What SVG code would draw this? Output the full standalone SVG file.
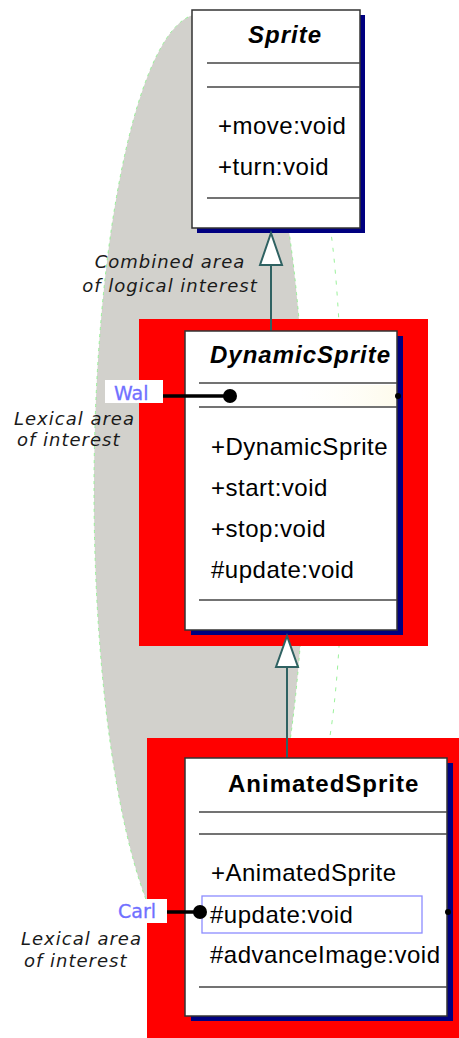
<svg xmlns="http://www.w3.org/2000/svg" width="459" height="1038" viewBox="0 0 459 1038">
  <style>
    .area { fill: #d2d1cc; stroke: #8cf28c; stroke-width: 0.9; stroke-dasharray: 3 4; }
    .area2 { fill: none; stroke: #9cf29c; stroke-width: 1; stroke-dasharray: 4 7; }
    .hl { fill: #ff0000; }
    .shadow { fill: #000080; }
    .box { fill: #ffffff; stroke: #333333; stroke-width: 1.5; }
    .sep { stroke: #444444; stroke-width: 1.6; }
    .title { font-family: "Liberation Sans", Arial, sans-serif; font-size: 24px; font-weight: bold; fill: #000; letter-spacing: 1px; }
    .ital { font-style: italic; }
    .member { font-family: "Liberation Sans", Arial, sans-serif; font-size: 24px; fill: #000; letter-spacing: 0.5px; }
    .note { font-family: "DejaVu Sans", sans-serif; font-size: 18px; font-style: italic; fill: #1a1a1a; letter-spacing: 1px; }
    .tag { font-family: "DejaVu Sans", sans-serif; font-size: 19px; fill: #7070ff; stroke: #7070ff; stroke-width: 0.3; }
    .gen { stroke: #2f6262; stroke-width: 2; fill: none; }
    .genhead { stroke: #2f6262; stroke-width: 2; fill: #ffffff; stroke-linejoin: miter; }
    .link { stroke: #000; stroke-width: 3.5; }
  </style>
  <defs>
    <linearGradient id="glow" x1="0" y1="0" x2="1" y2="0">
      <stop offset="0" stop-color="#fffdf0" stop-opacity="0"/>
      <stop offset="1" stop-color="#fdf8e0" stop-opacity="0.6"/>
    </linearGradient>
  </defs>

  <!-- areas of interest -->
  <ellipse class="area" cx="200" cy="490" rx="106" ry="476"/>
  <path class="area2" d="M 330 226 C 346 330 350 620 329 742"/>

  <!-- highlight backgrounds -->
  <rect class="hl" x="139" y="319" width="289" height="327"/>
  <rect class="hl" x="147" y="738" width="312" height="300"/>

  <!-- connectors -->
  <g id="connectors">
    <line class="gen" x1="271" y1="265" x2="271" y2="331"/>
    <line class="gen" x1="287" y1="667" x2="287" y2="758"/>
  </g>

  <g id="Sprite">
    <rect class="shadow" x="197" y="15" width="168" height="218"/>
    <rect class="box" x="192" y="10" width="168" height="218"/>
    <text class="title ital" x="248" y="43">Sprite</text>
    <line class="sep" x1="207" y1="63" x2="360" y2="63"/>
    <line class="sep" x1="207" y1="87" x2="360" y2="87"/>
    <text class="member" x="218" y="134">+move:void</text>
    <text class="member" x="218" y="175">+turn:void</text>
    <line class="sep" x1="207" y1="198" x2="360" y2="198"/>
  </g>

  <g id="DynamicSprite">
    <rect class="shadow" x="191" y="336" width="212" height="299"/>
    <rect class="box" x="185" y="331" width="212" height="299"/>
    <rect x="300" y="385" width="96" height="21" fill="url(#glow)"/>
    <text class="title ital" x="210" y="363">DynamicSprite</text>
    <line class="sep" x1="199" y1="383" x2="397" y2="383"/>
    <line class="sep" x1="199" y1="407" x2="397" y2="407"/>
    <text class="member" x="211" y="455">+DynamicSprite</text>
    <text class="member" x="211" y="496">+start:void</text>
    <text class="member" x="211" y="537">+stop:void</text>
    <text class="member" x="211" y="578">#update:void</text>
    <line class="sep" x1="199" y1="600" x2="397" y2="600"/>
  </g>

  <g id="AnimatedSprite">
    <rect class="shadow" x="191" y="763" width="262" height="258"/>
    <rect class="box" x="185" y="758" width="262" height="258"/>
    <text class="title" x="228" y="792">AnimatedSprite</text>
    <line class="sep" x1="199" y1="812" x2="447" y2="812"/>
    <line class="sep" x1="199" y1="834" x2="447" y2="834"/>
    <text class="member" x="211" y="881">+AnimatedSprite</text>
    <rect x="202" y="896" width="220" height="37" fill="none" stroke="#8c8cff" stroke-width="1.3"/>
    <text class="member" x="210" y="923">#update:void</text>
    <text class="member" x="210" y="963">#advanceImage:void</text>
    <line class="sep" x1="199" y1="987" x2="447" y2="987"/>
  </g>

  <g id="generalization-heads">
    <polygon class="genhead" points="271,233 260,265 282,265"/>
    <polygon class="genhead" points="287,636 276,667 298,667"/>
  </g>

  <g id="Wal">
    <rect x="105" y="380" width="58" height="23" fill="#ffffff"/>
    <text class="tag" x="114" y="400">Wal</text>
    <line class="link" x1="163" y1="396" x2="230" y2="396"/>
    <circle cx="230" cy="396" r="7" fill="#000"/>
    <circle cx="398" cy="396" r="3" fill="#000"/>
  </g>

  <g id="Carl">
    <rect x="113" y="899" width="54" height="24" fill="#ffffff"/>
    <text class="tag" x="118" y="918">Carl</text>
    <line class="link" x1="167" y1="912" x2="200" y2="912"/>
    <circle cx="200" cy="912" r="7" fill="#000"/>
    <circle cx="448" cy="912" r="3" fill="#000"/>
  </g>

  <g id="notes">
    <text class="note" x="170" y="268" text-anchor="middle">Combined area</text>
    <text class="note" x="170" y="292" text-anchor="middle">of logical interest</text>
    <text class="note" x="14" y="425">Lexical area</text>
    <text class="note" x="17" y="446">of interest</text>
    <text class="note" x="21" y="945">Lexical area</text>
    <text class="note" x="24" y="967">of interest</text>
  </g>
</svg>
